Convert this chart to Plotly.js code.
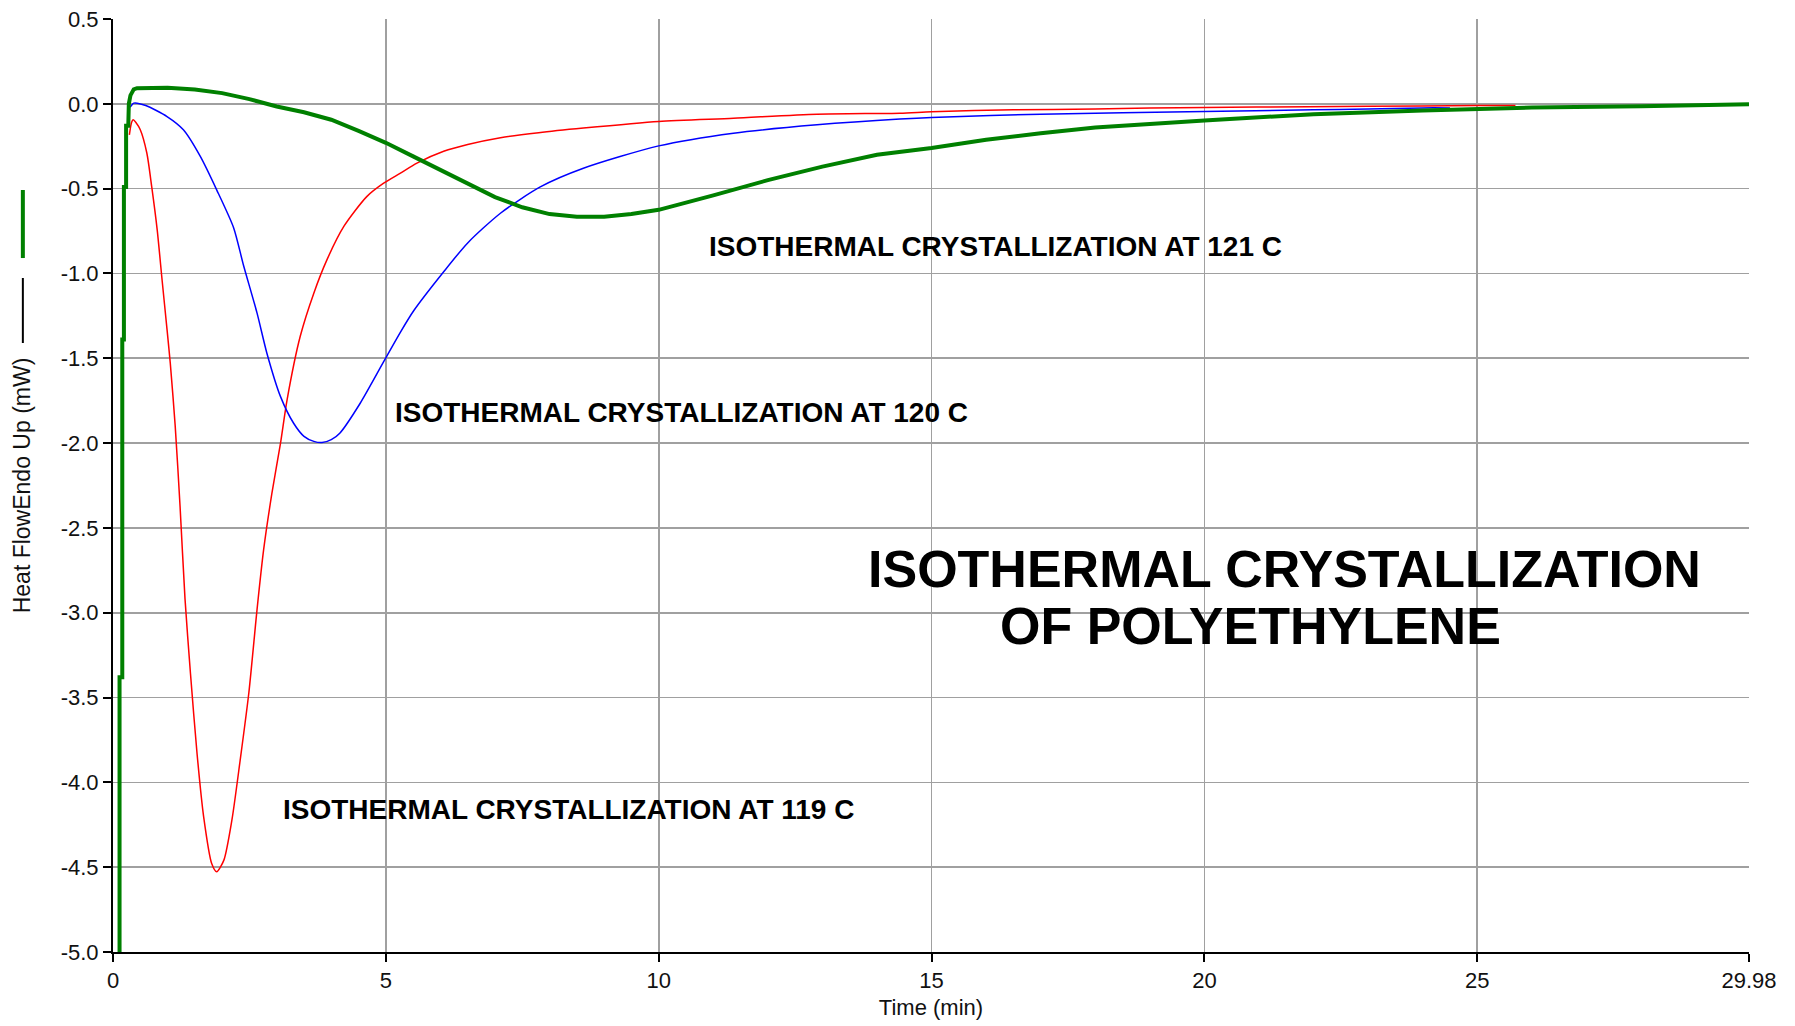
<!DOCTYPE html>
<html>
<head>
<meta charset="utf-8">
<script src="https://cdn.plot.ly/plotly-3.0.1.min.js"></script>
<style>html,body{margin:0;padding:0;background:#fff;}#chart{width:1795px;height:1026px;}</style>
</head>
<body>
<div id="chart"></div>
<script>
// ---- Data ----
const t119 = [0.30,0.34,0.37,0.42,0.50,0.62,0.71,0.81,0.90,0.99,1.05,1.14,1.23,1.32,1.42,1.54,1.66,1.81,1.90,2.03,2.18,2.33,2.49,2.64,2.76,2.91,3.07,3.19,3.43,3.68,3.92,4.23,4.65,4.96,5.26,5.57,6.06,6.5,7.1,7.8,8.62,10.0,11.37,12.9,14.42,15.0,16.5,18.0,19.0,20.0,21.9,23.0,25.0,25.7];
const hf119 = [-0.183,-0.11,-0.094,-0.11,-0.153,-0.29,-0.49,-0.743,-1.04,-1.33,-1.53,-1.90,-2.38,-2.92,-3.36,-3.83,-4.2,-4.48,-4.527,-4.46,-4.22,-3.87,-3.47,-2.98,-2.63,-2.3,-2.0,-1.745,-1.372,-1.116,-0.92,-0.723,-0.547,-0.468,-0.41,-0.35,-0.28,-0.24,-0.2,-0.17,-0.143,-0.104,-0.085,-0.061,-0.055,-0.047,-0.035,-0.031,-0.025,-0.021,-0.018,-0.015,-0.01,-0.01];

const t120 = [0.28,0.32,0.38,0.6,0.99,1.29,1.6,1.9,2.21,2.39,2.64,2.82,3.07,3.31,3.5,3.68,3.83,4.0,4.16,4.53,4.96,5.26,5.51,6.06,6.5,7.1,7.83,8.62,10,11.37,12.9,14.42,15,17,20,22,23,24,24.5];
const hf120 = [-0.02,-0.016,0.004,-0.01,-0.075,-0.153,-0.31,-0.507,-0.73,-0.95,-1.234,-1.47,-1.726,-1.883,-1.96,-1.99,-1.997,-1.98,-1.94,-1.765,-1.52,-1.35,-1.22,-0.99,-0.82,-0.645,-0.49,-0.38,-0.248,-0.173,-0.124,-0.09,-0.081,-0.061,-0.045,-0.035,-0.031,-0.024,-0.024];

const t121 = [0.12,0.12,0.17,0.17,0.2,0.2,0.24,0.24,0.28,0.29,0.32,0.38,0.44,1.0,1.5,2.0,2.5,3.0,3.5,4.0,4.5,5.0,5.5,6.0,6.5,7.0,7.5,8.0,8.5,9.0,9.5,10,11,12,13,14,15,16,17,18,20,22,24,25,26,28,29,29.98];
const hf121 = [-5.0,-3.38,-3.38,-1.39,-1.39,-0.49,-0.49,-0.13,-0.13,0.0,0.05,0.085,0.092,0.095,0.085,0.063,0.028,-0.016,-0.05,-0.094,-0.16,-0.23,-0.31,-0.39,-0.47,-0.55,-0.61,-0.65,-0.665,-0.665,-0.65,-0.625,-0.54,-0.45,-0.37,-0.30,-0.26,-0.212,-0.173,-0.14,-0.098,-0.061,-0.04,-0.031,-0.022,-0.015,-0.006,-0.002];

const xTickVals = [0,5,10,15,20,25,29.98];
const xTickText = ['0','5','10','15','20','25','29.98'];
const yTickVals = [0.5,0,-0.5,-1,-1.5,-2,-2.5,-3,-3.5,-4,-4.5,-5];
const yTickText = ['0.5','0.0','-0.5','-1.0','-1.5','-2.0','-2.5','-3.0','-3.5','-4.0','-4.5','-5.0'];

const labels = ['ISOTHERMAL CRYSTALLIZATION AT 121 C','ISOTHERMAL CRYSTALLIZATION AT 120 C','ISOTHERMAL CRYSTALLIZATION AT 119 C'];
const labelX = [10.89, 5.13, 3.07];
const labelY = [-0.84, -1.82, -4.16];
const titleLines = ['ISOTHERMAL CRYSTALLIZATION','OF POLYETHYLENE'];
const titleX = [21.47, 20.84];
const titleY = [-2.74, -3.08];

const FONT = 'Liberation Sans, Arial, sans-serif';

const traces = [
  {x:t119, y:hf119, mode:'lines', line:{color:'#ff0000', width:1.5, shape:'spline', smoothing:0.7}, name:'119 C'},
  {x:t120, y:hf120, mode:'lines', line:{color:'#0000ff', width:1.5, shape:'spline', smoothing:0.7}, name:'120 C'},
  {x:t121, y:hf121, mode:'lines', line:{color:'#008000', width:4}, name:'121 C'}
];

const annotations = [];
labels.forEach((txt,i)=>annotations.push({x:labelX[i], y:labelY[i], xref:'x', yref:'y', text:txt, showarrow:false, xanchor:'left', yanchor:'middle', font:{family:FONT, size:28, color:'#000', weight:'bold'}}));
titleLines.forEach((txt,i)=>annotations.push({x:titleX[i], y:titleY[i], xref:'x', yref:'y', text:txt, showarrow:false, xanchor:'center', yanchor:'middle', font:{family:FONT, size:52, color:'#000', weight:'bold'}}));

const layout = {
  width:1795, height:1026,
  margin:{l:113, r:46, t:19, b:74},
  paper_bgcolor:'#fff', plot_bgcolor:'#fff',
  showlegend:false,
  font:{family:FONT, size:22, color:'#111'},
  xaxis:{
    range:[0,29.98], tickmode:'array', tickvals:xTickVals, ticktext:xTickText,
    showgrid:true, gridcolor:'#a0a0a0', gridwidth:1.6,
    showline:true, linecolor:'#000', linewidth:2,
    ticks:'outside', ticklen:8, tickwidth:2, tickcolor:'#000',
    zeroline:false,
    tickfont:{family:FONT, size:22, color:'#111'},
    title:{text:'Time (min)', font:{family:FONT, size:22, color:'#111'}, standoff:7}
  },
  yaxis:{
    range:[-5,0.5], tickmode:'array', tickvals:yTickVals, ticktext:yTickText,
    showgrid:true, gridcolor:'#a0a0a0', gridwidth:1.6,
    showline:true, linecolor:'#000', linewidth:2,
    ticks:'outside', ticklen:8, tickwidth:2, tickcolor:'#000',
    zeroline:false,
    tickfont:{family:FONT, size:22, color:'#111'},
    title:{text:'Heat FlowEndo Up (mW)', font:{family:FONT, size:23, color:'#111'}, standoff:24}
  },
  annotations:annotations,
  shapes:[
    {type:'line', xref:'paper', yref:'paper', x0:-0.0551, x1:-0.0551, y0:0.6527, y1:0.7224, line:{color:'#000', width:2}},
    {type:'line', xref:'paper', yref:'paper', x0:-0.0551, x1:-0.0551, y0:0.7438, y1:0.8167, line:{color:'#008000', width:4}}
  ]
};

Plotly.newPlot('chart', traces, layout, {staticPlot:true, displayModeBar:false});
</script>
</body>
</html>
